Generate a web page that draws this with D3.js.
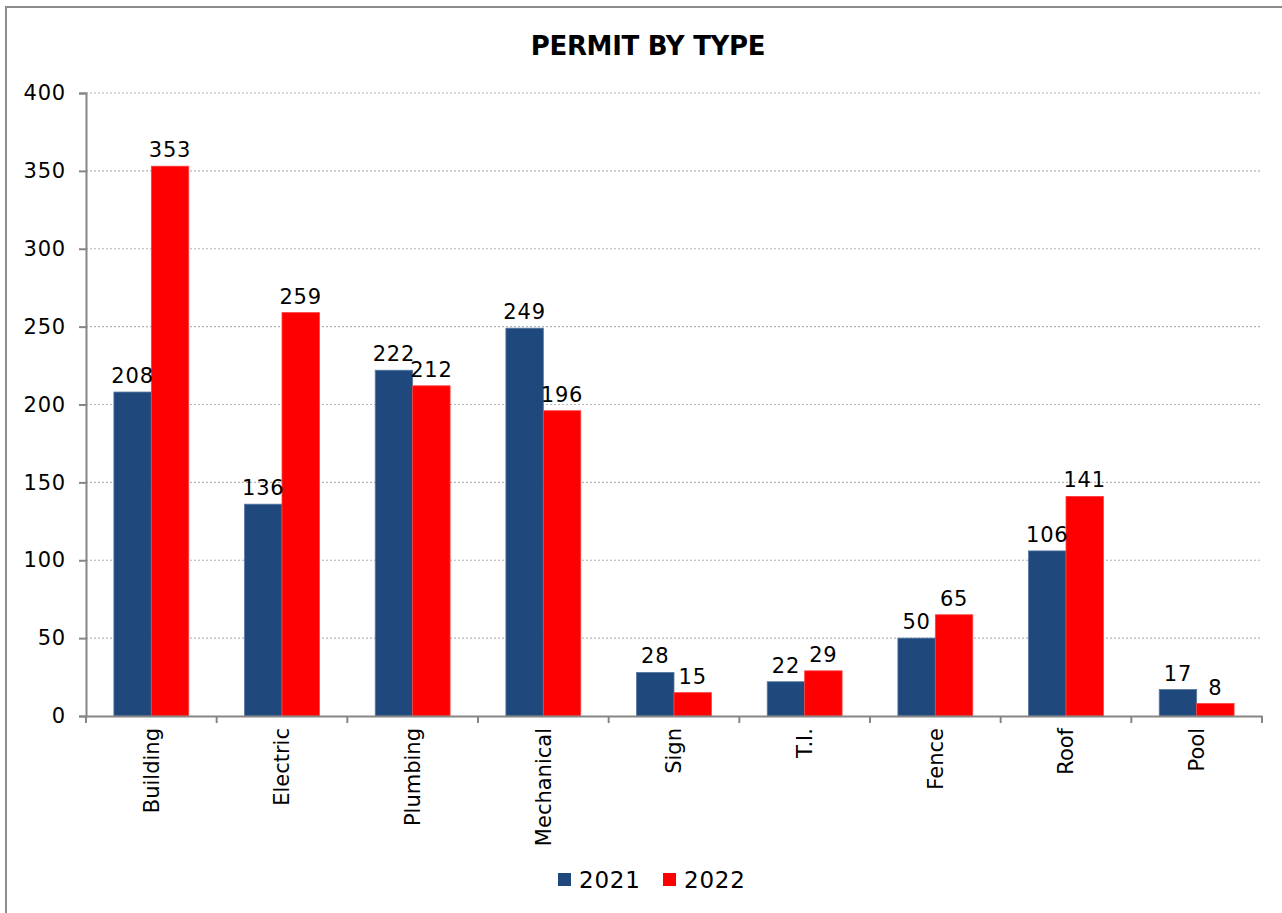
<!DOCTYPE html>
<html><head><meta charset="utf-8">
<script src="https://cdn.jsdelivr.net/npm/d3@7"></script>
<style>body{margin:0;background:#fff}svg{display:block}text{font-family:"DejaVu Sans",Verdana,sans-serif;fill:#000}</style>
</head><body>
<svg id="c" width="1282" height="913"></svg>
<script>
const categories=["Building","Electric","Plumbing","Mechanical","Sign","T.I.","Fence","Roof","Pool"];
const series=["2021","2022"];
const values2021=[208,136,222,249,28,22,50,106,17];
const values2022=[353,259,212,196,15,29,65,141,8];
const yTicks=[0,50,100,150,200,250,300,350,400];
const colors=["#1F497D","#FF0000"];

const svg=d3.select("#c");
svg.append("rect").attr("x",6).attr("y",7).attr("width",1300).attr("height",950)
  .attr("fill","#fff").attr("stroke","#8c8c8c").attr("stroke-width",2);

const L=86,R=1262,T=93,B=716;
const y=d3.scaleLinear().domain([0,400]).range([B,T]);
const x0=d3.scaleBand().domain(categories).range([L,R]).padding(0);
const step=x0.bandwidth();
const bw=step*0.2865;
const x1=d3.scaleBand().domain(series).range([(step-2*bw)/2,(step+2*bw)/2]).padding(0);

// gridlines
svg.append("g").selectAll("line").data(yTicks.filter(d=>d>0)).join("line")
  .attr("x1",L).attr("x2",R).attr("y1",d=>y(d)).attr("y2",d=>y(d))
  .attr("stroke","#b4b4b4").attr("stroke-width",1.2).attr("stroke-dasharray","2,2");

// title
svg.append("text").attr("x",648).attr("y",55).attr("text-anchor","middle")
  .attr("font-size",26).attr("font-weight","bold").attr("letter-spacing","-0.3").text("PERMIT BY TYPE");

// bars
const data=categories.map((c,i)=>({c,vals:[{s:"2021",v:values2021[i]},{s:"2022",v:values2022[i]}]}));
const g=svg.append("g").selectAll("g").data(data).join("g").attr("transform",d=>`translate(${x0(d.c)},0)`);
g.selectAll("rect").data(d=>d.vals).join("rect")
  .attr("x",d=>x1(d.s)).attr("width",x1.bandwidth())
  .attr("y",d=>y(d.v)).attr("height",d=>B-y(d.v))
  .attr("fill",(d,i)=>colors[i]).attr("stroke",(d,i)=>i?"#ff4040":"#5577a0").attr("stroke-width",0.8);
g.selectAll("text").data(d=>d.vals).join("text")
  .attr("x",d=>x1(d.s)+x1.bandwidth()/2).attr("y",d=>y(d.v)-9)
  .attr("text-anchor","middle").attr("font-size",21).attr("letter-spacing","0.8").text(d=>d.v);

// y axis
const ya=svg.append("g").attr("transform",`translate(${L},0)`)
  .call(d3.axisLeft(y).tickValues(yTicks).tickSize(7).tickPadding(13));
ya.select(".domain").attr("stroke","#868686").attr("stroke-width",2);
ya.selectAll(".tick line").attr("stroke","#868686").attr("stroke-width",2);
ya.selectAll(".tick text").attr("font-size",21).attr("letter-spacing","0.8").attr("font-family","DejaVu Sans").attr("fill","#000");

// x axis
const xa=svg.append("g").attr("transform",`translate(0,${B})`)
  .call(d3.axisBottom(x0).tickSize(0).tickPadding(0));
xa.select(".domain").attr("stroke","#868686").attr("stroke-width",2);
xa.selectAll(".tick text").attr("font-size",21).attr("font-family","DejaVu Sans").attr("fill","#000")
  .attr("transform","translate(0,12) rotate(-90)").attr("text-anchor","end").attr("dy","0.35em").attr("dx","0");
const bounds=categories.map(c=>x0(c)).concat([R]);
svg.append("g").selectAll("line").data(bounds).join("line")
  .attr("x1",d=>d).attr("x2",d=>d).attr("y1",B).attr("y2",B+7)
  .attr("stroke","#868686").attr("stroke-width",2);

// legend
const leg=svg.append("g");
const lx=[558,663];
series.forEach((s,i)=>{
  leg.append("rect").attr("x",lx[i]).attr("y",873).attr("width",13).attr("height",13).attr("fill",colors[i]);
  leg.append("text").attr("x",lx[i]+21).attr("y",888).attr("font-size",23).attr("letter-spacing","0.8").text(s);
});
</script>
</body></html>
